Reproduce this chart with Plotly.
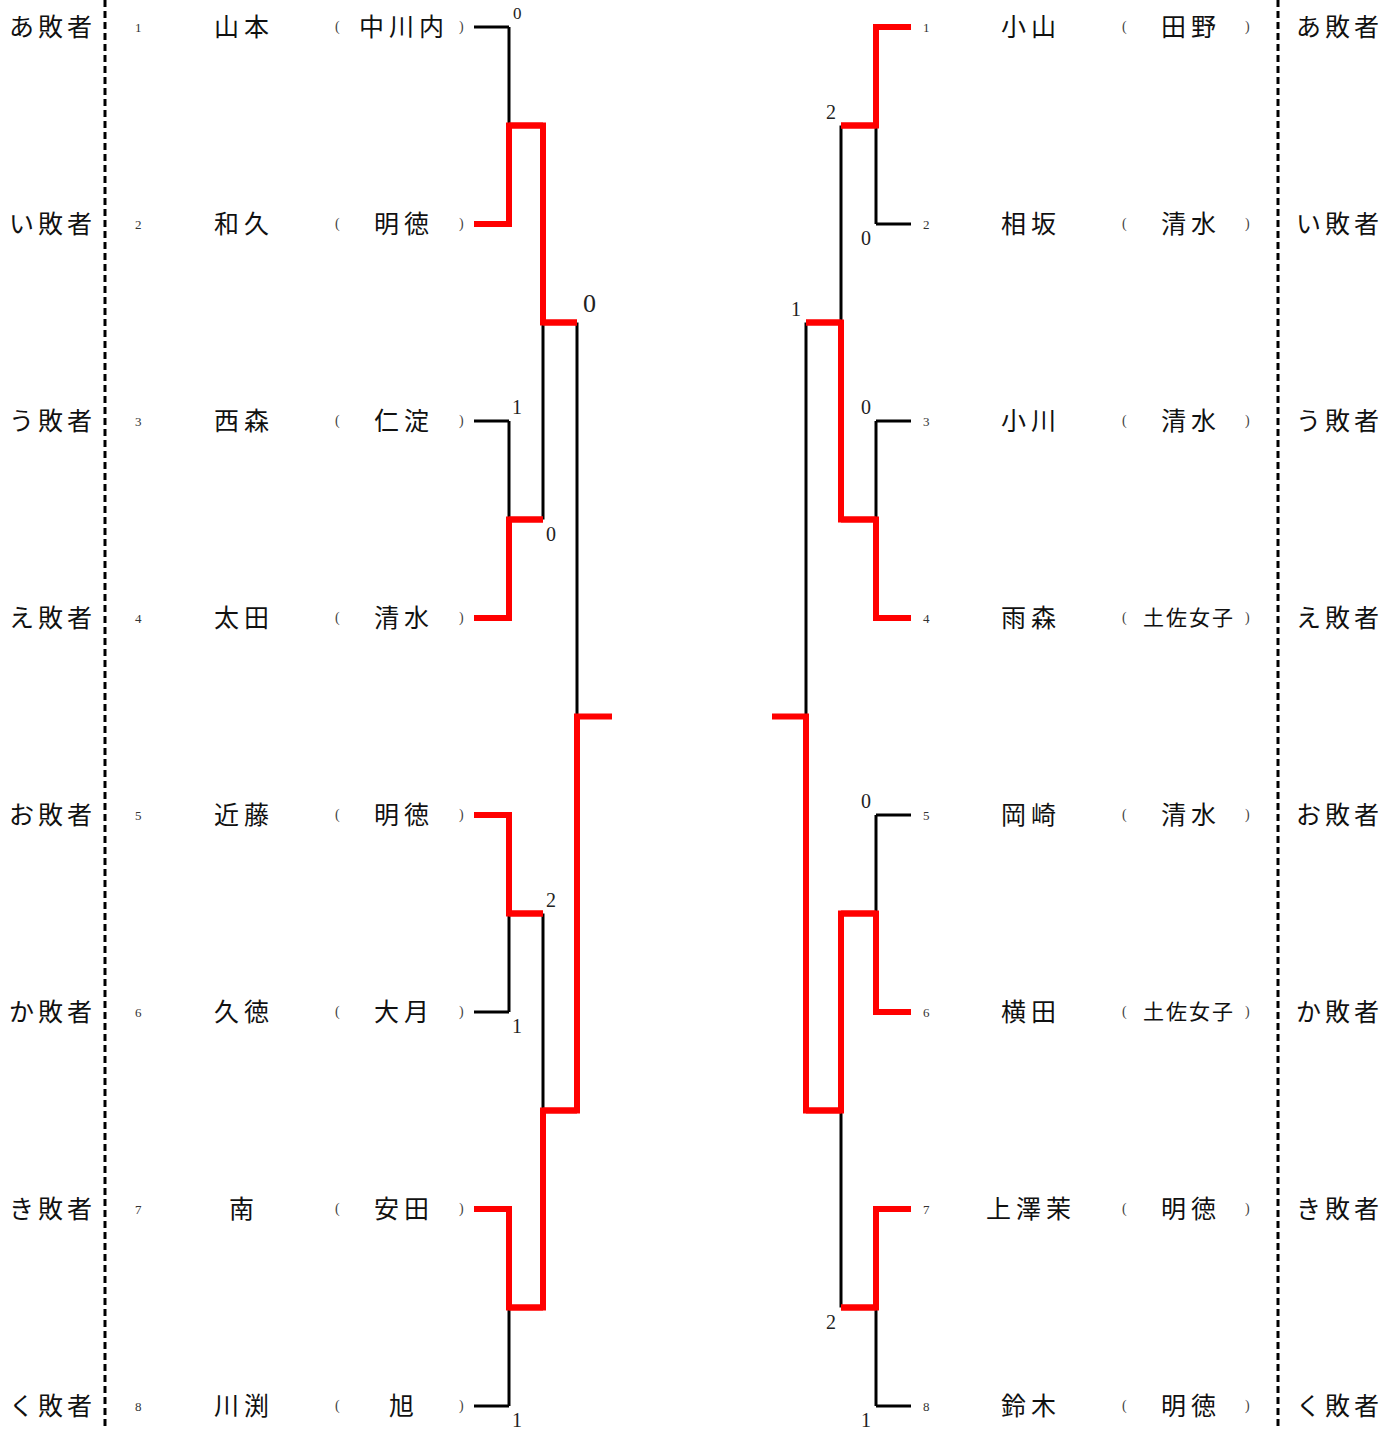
import plotly.graph_objects as go

# ---------------- data ----------------
loser_labels = ["あ敗者", "い敗者", "う敗者", "え敗者", "お敗者", "か敗者", "き敗者", "く敗者"]
seeds = ["1", "2", "3", "4", "5", "6", "7", "8"]

left_names = ["山本", "和久", "西森", "太田", "近藤", "久徳", "南", "川渕"]
left_schools = ["中川内", "明徳", "仁淀", "清水", "明徳", "大月", "安田", "旭"]
right_names = ["小山", "相坂", "小川", "雨森", "岡崎", "横田", "上澤茉", "鈴木"]
right_schools = ["田野", "清水", "清水", "土佐女子", "清水", "土佐女子", "明徳", "明徳"]

# winners (row index 0-7) of each match, per round
left_winners = [[1, 3, 4, 6], [1, 6], [6]]
right_winners = [[0, 3, 5, 6], [3, 5], [5]]
# score shown for the losing side of each match, per round
left_loser_scores = [[0, 1, 1, 1], [0, 2], [0]]
right_loser_scores = [[0, 0, 0, 1], [2, 2], [1]]

# ---------------- geometry / style ----------------
W, H = 1398, 1430
ROW0, ROWSTEP = 27, 197
row_y = [ROW0 + ROWSTEP * i for i in range(8)]
X_LEFT = [474, 509, 543, 577, 612]
X_RIGHT = [911, 876, 841, 806, 772]
RED, BLACK = "#ff0000", "#000000"
RW, BW = 6, 3
JP = "Noto Sans CJK JP"
SERIF = "Liberation Serif"

fig = go.Figure()
annotations = []


def add_text(x, y, text, size, family=JP, color="#111", xanchor="center", spacing=0, yshift=0):
    if spacing:
        text = '<span style="letter-spacing:%dpx">%s</span>' % (spacing, text)
        x = x + spacing / 2.0
    annotations.append(dict(x=x, y=y, xref="x", yref="y", text=text, showarrow=False,
                            font=dict(family=family, size=size, color=color),
                            xanchor=xanchor, yanchor="middle", yshift=yshift))


def bracket(xs, winners, scores, side):
    red_x, red_y, blk_x, blk_y = [], [], [], []
    pos = {i: row_y[i] for i in range(8)}
    current = list(range(8))
    for r, wins in enumerate(winners):
        nxt = []
        for m, w in enumerate(wins):
            a, b = current[2 * m], current[2 * m + 1]
            ya, yb = pos[a], pos[b]
            ymid = (ya + yb) / 2
            for e, ye in ((a, ya), (b, yb)):
                if e == w:
                    red_x += [xs[r], xs[r + 1], xs[r + 1], xs[r + 2], None]
                    red_y += [ye, ye, ymid, ymid, None]
                else:
                    blk_x += [xs[r + 1], xs[r + 1], None]
                    blk_y += [ye, ymid, None]
                    if r == 0:
                        blk_x += [xs[r], xs[r + 1], None]
                        blk_y += [ye, ye, None]
                    else:
                        red_x += [xs[r], xs[r + 1], None]
                        red_y += [ye, ye, None]
                    # loser score label
                    top = ye < ymid
                    big = (r == 2 and side == "L")
                    off = 19 if big else 14
                    ty = ye - off if top else ye + off
                    size = 26 if big else (17 if ty < 20 else 20)
                    dx = 8 if side == "L" else -10
                    add_text(xs[r + 1] + dx + (4 if big else 0), ty, str(scores[r][m]),
                             size, family=SERIF, color="#222")
            pos[w] = ymid
            nxt.append(w)
        current = nxt
    fig.add_trace(go.Scatter(x=blk_x, y=blk_y, mode="lines", hoverinfo="skip",
                             line=dict(color=BLACK, width=BW), showlegend=False))
    fig.add_trace(go.Scatter(x=red_x, y=red_y, mode="lines", hoverinfo="skip",
                             line=dict(color=RED, width=RW), showlegend=False))


bracket(X_LEFT, left_winners, left_loser_scores, "L")
bracket(X_RIGHT, right_winners, right_loser_scores, "R")

# dashed separators
for xd in (105, 1278):
    fig.add_trace(go.Scatter(x=[xd, xd], y=[0, H], mode="lines", hoverinfo="skip",
                             line=dict(color=BLACK, width=3, dash="7px,4px"), showlegend=False))

# texts
for i in range(8):
    y = row_y[i]
    add_text(50, y, loser_labels[i], 25, spacing=4, yshift=2)
    add_text(1337, y, loser_labels[i], 25, spacing=4, yshift=2)
    add_text(138, y, seeds[i], 13, family=SERIF, color="#333")
    add_text(926, y, seeds[i], 13, family=SERIF, color="#333")
    add_text(241, y, left_names[i], 25, spacing=5, yshift=2)
    add_text(1028, y, right_names[i], 25, spacing=5, yshift=2)
    add_text(337, y, "(", 14, family=SERIF, color="#444")
    add_text(461, y, ")", 14, family=SERIF, color="#444")
    add_text(1124, y, "(", 14, family=SERIF, color="#444")
    add_text(1247, y, ")", 14, family=SERIF, color="#444")
    for xc, s in ((401, left_schools[i]), (1188, right_schools[i])):
        if len(s) < 4:
            add_text(xc, y, s, 25, spacing=5, yshift=2)
        else:
            add_text(xc, y, s, 21, spacing=2, yshift=2)

fig.update_layout(
    width=W, height=H,
    margin=dict(l=0, r=0, t=0, b=0),
    paper_bgcolor="white", plot_bgcolor="white",
    xaxis=dict(range=[0, W], visible=False, fixedrange=True),
    yaxis=dict(range=[H, 0], visible=False, fixedrange=True),
    annotations=annotations,
    showlegend=False,
    hovermode=False,
)

fig.write_html("out.html", config={"displayModeBar": False},
               post_script="document.body.style.margin='0px';document.body.style.overflow='hidden';")
